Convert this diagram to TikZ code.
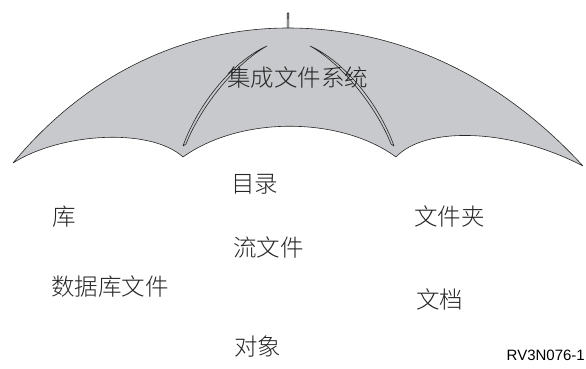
\documentclass[tikz,border=0pt]{standalone}
\usepackage{fontspec}
\newfontfamily\cjk{Noto Sans CJK SC Light}
\newfontfamily\idfont{Liberation Sans}
\definecolor{umbrellagray}{RGB}{200,201,204}
\tikzset{
	canopy/.style={fill=umbrellagray, draw=black!85, line width=0.6pt, line join=round},
	itemtext/.style={anchor=west, inner sep=0pt, text=black!85}
}
\begin{document}
\begin{tikzpicture}[x=1pt,y=-1pt]
				\newcommand{\myfontcn}[1]{
					\fontsize{23.5}{27}\selectfont{\cjk #1}
				}\newcommand{\myfontid}[1]{
					\fontsize{15}{18}\selectfont{\idfont #1}
				}%Page frame
				\useasboundingbox (0,0) rectangle (586,369);
				%Tips and notches of the canopy
				\coordinate (tipL) at (13,163);
				\coordinate (tipR) at (583,166);
				\coordinate (top) at (288,28);
				\coordinate (notchL) at (183,157);
				\coordinate (notchR) at (396,157);
				%Spike on top
				\filldraw[canopy] (287,31) -- (287.3,13) -- (288.7,13) -- (289,31);
				%Outer hull, then the three scallops back to the left tip
				\filldraw[canopy] (tipL) .. controls (90,70) and (190,28) .. (top)
					.. controls (385,28) and (490,65) .. (tipR)
					.. controls (510,128) and (425,126) .. (notchR)
					.. controls (340,116) and (240,116) .. (notchL)
					.. controls (150,127) and (60,133) .. (tipL) -- cycle;
				%Ribs
				\coordinate (ribL) at (267,46);
				\coordinate (ribR) at (310,46);
				\filldraw[canopy] (ribL) .. controls (233,61) and (198,104) .. (183,146)
					-- (186,144) .. controls (201,106) and (236,63) .. (ribL) -- cycle;
				\filldraw[canopy] (ribR) .. controls (344,61) and (379,104) .. (394,146)
					-- (391,144) .. controls (376,106) and (341,63) .. (ribR) -- cycle;
				%Title on the canopy
				\node [itemtext] (ifs) at (227,78) {\myfontcn{集成文件系统}};
				%Left column
				\node [itemtext] (lib) at (52,217) {\myfontcn{库}};
				\node [itemtext] (dbfile) at (51,287) {\myfontcn{数据库文件}};
				%Middle column
				\node [itemtext] (dir) at (231,184) {\myfontcn{目录}};
				\node [itemtext] (stream) at (233,248) {\myfontcn{流文件}};
				\node [itemtext] (obj) at (234,347) {\myfontcn{对象}};
				%Right column
				\node [itemtext] (folder) at (414,217) {\myfontcn{文件夹}};
				\node [itemtext] (doc) at (416,299) {\myfontcn{文档}};
				%Figure id
				\node [anchor=east, inner sep=0pt] (figid) at (585,355) {\myfontid{RV3N076-1}};
\end{tikzpicture}
\end{document}
